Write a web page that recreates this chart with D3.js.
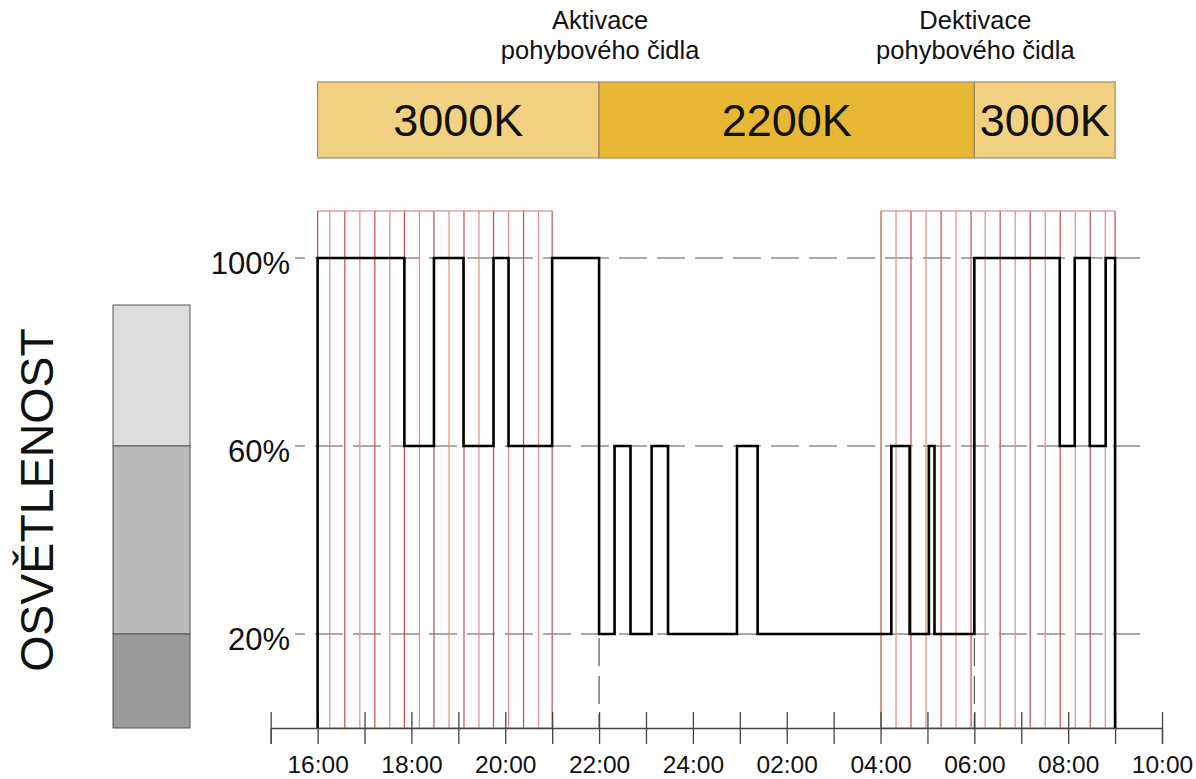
<!DOCTYPE html>
<html>
<head>
<meta charset="utf-8">
<title>Osvětlenost</title>
<script src="https://cdn.jsdelivr.net/npm/d3@7/dist/d3.min.js"></script>
<style>
  body { margin: 0; background: #fff; }
  svg text { font-family: "Liberation Sans", Arial, sans-serif; fill: #111; }
</style>
</head>
<body>
<div id="chart"></div>
<script>
// hours counted from 16:00 upward (24 = midnight, 28 = 04:00 ...)
var stepTimes  = [16, 16, 17.85, 18.48, 19.11, 19.75, 20.07, 21.0, 22.0, 22.33, 22.67, 23.12, 23.47, 24.94, 25.38, 28.23, 28.62, 29.03, 29.15, 30.0, 31.82, 32.14, 32.46, 32.8, 33.0];
var stepLevels = [0, 100, 60, 100, 60, 100, 60, 100, 20, 60, 20, 60, 20, 60, 20, 60, 20, 60, 20, 100, 60, 100, 60, 100, 0];

var redLinesEvening = [16.0, 16.26, 16.58, 16.9, 17.22, 17.54, 17.85, 18.17, 18.48, 18.8, 19.12, 19.44, 19.75, 20.07, 20.39, 20.71, 21.0];
var redLinesMorning = [28.01, 28.33, 28.65, 28.97, 29.29, 29.61, 29.93, 30.23, 30.55, 30.87, 31.19, 31.51, 31.83, 32.15, 32.47, 32.79, 33.0];
var redBoxTop = 110;

var levelTicks = [20, 60, 100];
var levelLabels = ["20%", "60%", "100%"];

var hourTicks = [15, 16, 17, 18, 19, 20, 21, 22, 23, 24, 25, 26, 27, 28, 29, 30, 31, 32, 33, 34];
var hourLabels = {16: "16:00", 18: "18:00", 20: "20:00", 22: "22:00", 24: "24:00",
                  26: "02:00", 28: "04:00", 30: "06:00", 32: "08:00", 34: "10:00"};

var cctStart = [16, 22, 30];
var cctEnd   = [22, 30, 33];
var cctLabel = ["3000K", "2200K", "3000K"];
var cctColor = ["#f2d282", "#e8b834", "#f2d282"];

var switchTimes = [22, 30];
var switchLine1 = ["Aktivace", "Dektivace"];
var switchLine2 = ["pohybového čidla", "pohybového čidla"];

var bandFrom  = [60, 20, 0];
var bandTo    = [90, 60, 20];
var bandColor = ["#dddddd", "#bbbbbb", "#9a9a9a"];

var width = 1196, height = 779;

var x = d3.scaleLinear().domain([15, 34]).range([270.7, 1162]);
var y = d3.scaleLinear().domain([0, 100]).range([728, 258]);

var svg = d3.select("#chart").append("svg")
    .attr("width", width)
    .attr("height", height);

// vertical title
svg.append("text")
    .attr("transform", "translate(53,500) rotate(-90)")
    .attr("text-anchor", "middle")
    .style("font-size", "46.5px")
    .text("OSVĚTLENOST");

// grey level bar
svg.selectAll(".band")
    .data(bandFrom)
    .enter().append("rect")
    .attr("class", "band")
    .attr("x", 113)
    .attr("width", 77)
    .attr("y", function(d, i) { return y(bandTo[i]); })
    .attr("height", function(d, i) { return y(bandFrom[i]) - y(bandTo[i]); })
    .style("fill", function(d, i) { return bandColor[i]; })
    .style("stroke", "#555")
    .style("stroke-width", 1);

// colour temperature bar
svg.selectAll(".cct")
    .data(cctStart)
    .enter().append("rect")
    .attr("class", "cct")
    .attr("x", function(d) { return x(d); })
    .attr("y", 82)
    .attr("width", function(d, i) { return x(cctEnd[i]) - x(d); })
    .attr("height", 76)
    .style("fill", function(d, i) { return cctColor[i]; })
    .style("stroke", "#8c7c55")
    .style("stroke-width", 1);

svg.selectAll(".cctLabel")
    .data(cctStart)
    .enter().append("text")
    .attr("x", function(d, i) { return (x(d) + x(cctEnd[i])) / 2; })
    .attr("y", 136)
    .attr("text-anchor", "middle")
    .style("font-size", "45px")
    .text(function(d, i) { return cctLabel[i]; });

// sensor notes
switchTimes.forEach(function(t, i) {
  var g = svg.append("g").attr("transform", "translate(" + (x(t) + 1) + ",0)");
  g.append("text").attr("y", 29).attr("text-anchor", "middle")
    .style("font-size", "25.5px").text(switchLine1[i]);
  g.append("text").attr("y", 59).attr("text-anchor", "middle")
    .style("font-size", "25.5px").text(switchLine2[i]);
});

// dashed grid
svg.selectAll(".grid")
    .data(levelTicks)
    .enter().append("line")
    .attr("x1", 295).attr("x2", x(33.53))
    .attr("y1", function(d) { return y(d); })
    .attr("y2", function(d) { return y(d); })
    .style("stroke", "#555")
    .style("stroke-width", 1.2)
    .style("stroke-dasharray", "28,10")
    .style("stroke-dashoffset", 18);

svg.selectAll(".vdash")
    .data(switchTimes)
    .enter().append("line")
    .attr("x1", function(d) { return x(d); })
    .attr("x2", function(d) { return x(d); })
    .attr("y1", y(100)).attr("y2", y(0))
    .style("stroke", "#555")
    .style("stroke-width", 1.2)
    .style("stroke-dasharray", "28,10");

svg.selectAll(".levelLabel")
    .data(levelTicks)
    .enter().append("text")
    .attr("x", 290)
    .attr("y", function(d) { return y(d) + 16; })
    .attr("text-anchor", "end")
    .style("font-size", "31px")
    .text(function(d, i) { return levelLabels[i]; });

// red boxes
[redLinesEvening, redLinesMorning].forEach(function(set) {
  var g = svg.append("g");
  g.selectAll("line.v")
    .data(set)
    .enter().append("line")
    .attr("x1", function(d) { return x(d); })
    .attr("x2", function(d) { return x(d); })
    .attr("y1", y(redBoxTop)).attr("y2", y(0))
    .style("stroke", function(d, i) { return i % 2 ? "#e58a8a" : "#cf4a4a"; })
    .style("stroke-width", 1.2);
  [redBoxTop, 0].forEach(function(v) {
    g.append("line")
      .attr("x1", x(set[0])).attr("x2", x(set[set.length - 1]))
      .attr("y1", y(v)).attr("y2", y(v))
      .style("stroke", "#e07070")
      .style("stroke-width", 1.2);
  });
});

// x axis with ticks on both sides
var axis = d3.axisBottom(x)
    .tickValues(hourTicks)
    .tickSize(16)
    .tickFormat(function(d) { return hourLabels[d] || ""; });

var ax = svg.append("g")
    .attr("transform", "translate(0," + y(0) + ")")
    .call(axis);
ax.select(".domain").attr("stroke", "#444").attr("stroke-width", 1.3);
ax.selectAll(".tick line").attr("y1", -16).attr("y2", 16)
    .attr("stroke", "#444").attr("stroke-width", 1.3);
ax.selectAll(".tick text")
    .attr("y", 45).attr("dy", 0)
    .style("font-size", "24.5px")
    .style("font-family", "'Liberation Sans', Arial, sans-serif")
    .attr("fill", "#111");

// illumination step line
var pts = stepTimes.map(function(t, i) { return [t, stepLevels[i]]; });
var line = d3.line()
    .x(function(d) { return x(d[0]); })
    .y(function(d) { return y(d[1]); })
    .curve(d3.curveStepAfter);

svg.append("path")
    .datum(pts)
    .attr("d", line)
    .style("fill", "none")
    .style("stroke", "#000")
    .style("stroke-width", 2.6)
    .style("stroke-linejoin", "miter");
</script>
</body>
</html>
